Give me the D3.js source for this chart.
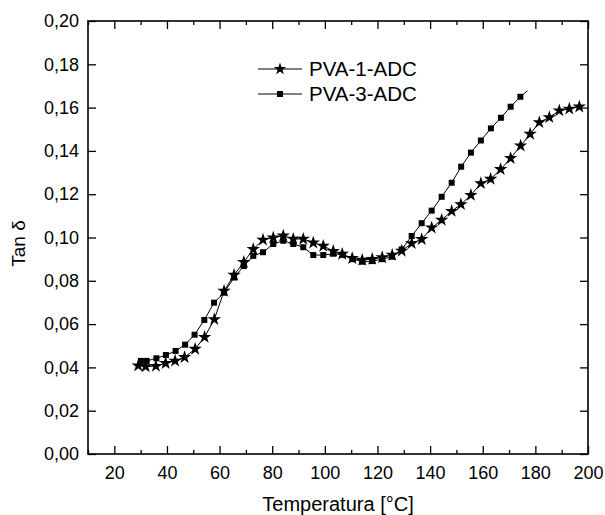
<!DOCTYPE html>
<html>
<head>
<meta charset="utf-8">
<script src="https://cdn.jsdelivr.net/npm/d3@7"></script>
<style>
  body { margin: 0; background: #fff; }
  text { font-family: Arial, "Liberation Sans", sans-serif; fill: #000; }
</style>
</head>
<body>
<svg id="chart" width="605" height="515"></svg>
<script>
// ---- data ----
const seriesNames = ["PVA-1-ADC", "PVA-3-ADC"];

const pva1Temp = [29.1, 31.9, 35.8, 39.5, 43.1, 46.7, 50.7, 54.3, 58.0, 61.7, 65.5, 69.2, 72.8, 76.5, 80.4, 84.2, 88.0, 91.8, 95.6, 99.4, 103.2, 106.6, 110.4, 114.2, 118.0, 121.8, 125.6, 129.2, 133.0, 136.8, 140.6, 144.4, 148.2, 151.7, 155.5, 159.3, 163.0, 166.8, 170.6, 174.4, 178.0, 181.5, 185.3, 189.1, 192.9, 196.7];
const pva1Tan  = [0.0408, 0.0404, 0.0406, 0.0419, 0.0430, 0.0447, 0.0485, 0.0540, 0.0622, 0.0753, 0.0827, 0.0886, 0.0946, 0.0989, 0.0999, 0.1008, 0.0993, 0.0993, 0.0976, 0.0961, 0.0937, 0.0924, 0.0904, 0.0896, 0.0900, 0.0908, 0.0919, 0.0938, 0.0973, 0.0992, 0.1045, 0.1081, 0.1122, 0.1153, 0.1196, 0.1250, 0.1270, 0.1315, 0.1366, 0.1424, 0.1478, 0.1532, 0.1555, 0.1586, 0.1594, 0.1604];

const pva3Temp = [30.1, 32.3, 36.0, 39.6, 43.3, 46.9, 50.5, 54.2, 57.9, 61.7, 65.5, 69.2, 72.8, 76.5, 80.4, 84.2, 88.0, 91.8, 95.6, 99.4, 103.2, 106.9, 110.6, 114.3, 118.0, 121.8, 125.5, 129.2, 133.0, 136.8, 140.6, 144.4, 148.2, 151.8, 155.5, 159.3, 163.1, 166.9, 170.6, 174.3, 177.0];
const pva3Tan  = [0.0430, 0.0430, 0.0442, 0.0457, 0.0476, 0.0505, 0.0551, 0.0619, 0.0699, 0.0745, 0.0815, 0.0868, 0.0915, 0.0932, 0.0970, 0.0985, 0.0970, 0.0955, 0.0919, 0.0919, 0.0925, 0.0920, 0.0900, 0.0888, 0.0891, 0.0900, 0.0911, 0.0945, 0.1007, 0.1066, 0.1124, 0.1188, 0.1253, 0.1327, 0.1392, 0.1448, 0.1504, 0.1553, 0.1604, 0.1650, 0.1678];
// markers are drawn on the measured points; the last PVA-3 point only ends the line
const pva3MarkerCount = 40;

const xTicks = [20, 40, 60, 80, 100, 120, 140, 160, 180, 200];
const xMinorTicks = [10, 30, 50, 70, 90, 110, 130, 150, 170, 190];
const yTicks = [0.00, 0.02, 0.04, 0.06, 0.08, 0.10, 0.12, 0.14, 0.16, 0.18, 0.20];
const xTitle = "Temperatura [°C]";
const yTitle = "Tan δ";

// ---- layout ----
const svg = d3.select("#chart");
const L = 88, R = 588, T = 21, B = 454;

const x = d3.scaleLinear().domain([10, 200]).range([L, R]);
const y = d3.scaleLinear().domain([0, 0.20]).range([B, T]);

const fmtY = v => d3.format(".2f")(v).replace(".", ",");

// axes (ticks pointing inward)
const axBottom = d3.axisBottom(x).tickValues(xTicks).tickSizeInner(-8).tickSizeOuter(0).tickPadding(12.5);
const axBottomMinor = d3.axisBottom(x).tickValues(xMinorTicks).tickSizeInner(-4).tickSizeOuter(0).tickFormat("");
const axTop = d3.axisTop(x).tickValues(xTicks).tickSizeInner(-8).tickSizeOuter(0).tickFormat("");
const axTopMinor = d3.axisTop(x).tickValues(xMinorTicks).tickSizeInner(-4).tickSizeOuter(0).tickFormat("");
const axLeft = d3.axisLeft(y).tickValues(yTicks).tickSizeInner(-8).tickSizeOuter(0).tickPadding(9).tickFormat(fmtY);
const axRight = d3.axisRight(y).tickValues(yTicks).tickSizeInner(-8).tickSizeOuter(0).tickFormat("");

function styleAxis(g) {
  g.select(".domain").remove();
  g.selectAll(".tick line").attr("stroke", "#000").attr("stroke-width", 1.3);
  g.selectAll(".tick text").attr("font-size", 18).attr("font-family", "Arial, 'Liberation Sans', sans-serif").attr("fill", "#000");
}

svg.append("g").attr("transform", `translate(0,${B})`).call(axBottom).call(styleAxis);
svg.append("g").attr("transform", `translate(0,${B})`).call(axBottomMinor).call(styleAxis);
svg.append("g").attr("transform", `translate(0,${T})`).call(axTop).call(styleAxis);
svg.append("g").attr("transform", `translate(0,${T})`).call(axTopMinor).call(styleAxis);
svg.append("g").attr("transform", `translate(${L},0)`).call(axLeft).call(styleAxis);
svg.append("g").attr("transform", `translate(${R},0)`).call(axRight).call(styleAxis);

// frame
svg.append("rect").attr("x", L).attr("y", T).attr("width", R - L).attr("height", B - T)
  .attr("fill", "none").attr("stroke", "#000").attr("stroke-width", 1.6);

// axis titles
svg.append("text").attr("x", (L + R) / 2).attr("y", 511).attr("text-anchor", "middle")
  .attr("font-size", 20).text(xTitle);
svg.append("text").attr("transform", `translate(25,${(T + B) / 2 + 6}) rotate(-90)`)
  .attr("text-anchor", "middle").attr("font-size", 19).text(yTitle);

// lines
const line = d3.line().x(d => x(d[0])).y(d => y(d[1]));
const s1 = pva1Temp.map((t, i) => [t, pva1Tan[i]]);
const s3 = pva3Temp.map((t, i) => [t, pva3Tan[i]]);

svg.append("path").datum(s1).attr("d", line).attr("fill", "none").attr("stroke", "#000").attr("stroke-width", 1);
svg.append("path").datum(s3).attr("d", line).attr("fill", "none").attr("stroke", "#000").attr("stroke-width", 1);

const star = d3.symbol().type(d3.symbolStar).size(56);
const square = d3.symbol().type(d3.symbolSquare).size(36);

svg.append("g").selectAll("path").data(s3.slice(0, pva3MarkerCount)).join("path")
  .attr("transform", d => `translate(${x(d[0])},${y(d[1])})`).attr("d", square).attr("fill", "#000");
svg.append("g").selectAll("path").data(s1).join("path")
  .attr("transform", d => `translate(${x(d[0])},${y(d[1])})`).attr("d", star).attr("fill", "#000");

// legend
const legend = svg.append("g");
const legY = [69, 94];
const legSyms = [d3.symbol().type(d3.symbolStar).size(48), square];
seriesNames.forEach((name, i) => {
  legend.append("line").attr("x1", 258).attr("x2", 302).attr("y1", legY[i]).attr("y2", legY[i])
    .attr("stroke", "#000").attr("stroke-width", 1);
  legend.append("path").attr("transform", `translate(280,${legY[i]})`).attr("d", legSyms[i]).attr("fill", "#000");
  legend.append("text").attr("x", 309).attr("y", legY[i] + 7).attr("font-size", 20.5).text(name);
});
</script>
</body>
</html>
